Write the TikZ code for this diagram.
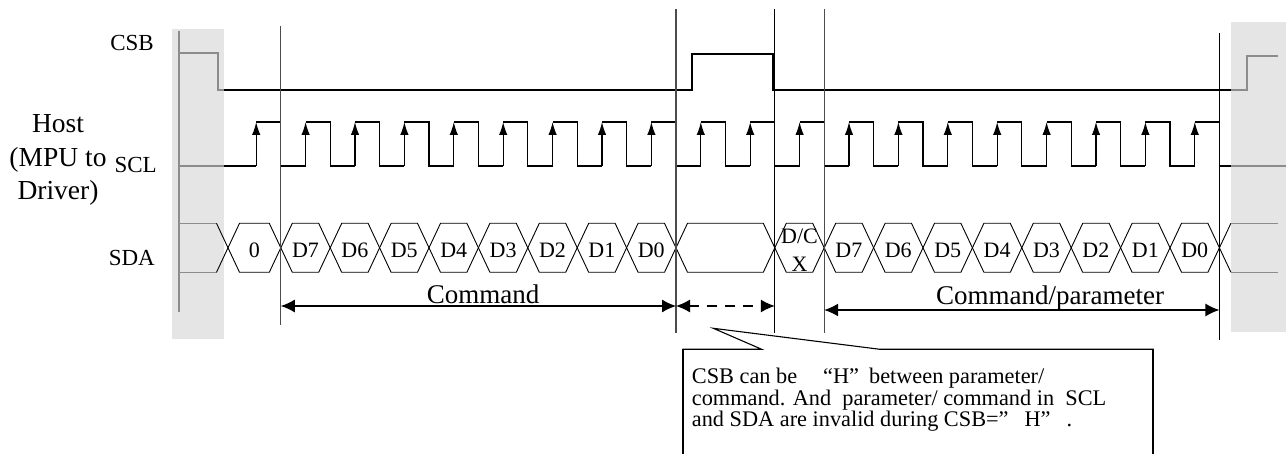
\documentclass[tikz,border=0pt]{standalone}
\usepackage{fontspec}
\setmainfont{Liberation Serif}
\usetikzlibrary{arrows.meta}
\begin{document}
\begin{tikzpicture}[x=1pt,y=-1pt,
  wave/.style={line width=1.3pt, black},
  hexa/.style={line width=0.9pt, black},
  bandline/.style={line width=1.2pt, black!45},
  guide/.style={line width=1.3pt, black!70},
  guideb/.style={line width=1.3pt, black},
  clk/.style={wave, -{Latex[length=13pt,width=8.5pt]}},
  dim/.style={line width=1.2pt, {Latex[length=14pt,width=13pt]}-{Latex[length=14pt,width=13pt]}},
  dimdash/.style={dim, dash pattern=on 10pt off 8pt},
  sig/.style={font=\fontsize{23}{24}\selectfont, anchor=east, inner sep=0pt},
  bit/.style={font=\fontsize{22}{22}\selectfont, inner sep=0pt},
  span/.style={font=\fontsize{27}{30}\selectfont, anchor=base, inner sep=0pt},
  note/.style={font=\fontsize{22.3}{21}\selectfont, anchor=base west, inner sep=0pt},
  callout/.style={line width=1.1pt, black},
  band/.style={fill=black!10, draw=none}
]
\useasboundingbox (0,0) rectangle (1286,454);

% gray bands
\fill[band] (172,29) rectangle (224,339);
\fill[band] (1231,22) rectangle (1286,332);
\draw[bandline] (179,31) -- (179,312);

% labels
\node[font=\fontsize{27.5}{33.3}\selectfont, align=center, inner sep=0pt] (host) at (58,160) {Host\\(MPU to\\Driver)};
\node[sig] (csbl) at (154,43.5) {CSB};
\node[sig] (scll) at (157,165.5) {SCL};
\node[sig] (sdal) at (155,258) {SDA};

% CSB
\draw[bandline] (179,53) -- (218,53) -- (218,90) -- (224,90);
\draw[wave] (224,90) -- (692,90) -- (692,54) -- (773,54) -- (773,90) -- (1231,90);
\draw[bandline] (1231,90) -- (1247,90) -- (1247,56) -- (1278,56);

% SCL
\draw[bandline] (179,166) -- (224,166);
\draw[wave] (224,166) -- (256.2,166);
\foreach \k in {0,...,19} {
  \pgfmathsetmacro\r{256.2+49.4*\k}
  \pgfmathsetmacro\f{\r+24.6}
  \pgfmathsetmacro\n{\r+49.4}
  \draw[clk] (\r,166) -- (\r,122);
  \ifnum\k<19
    \draw[wave] (\r,122) -- (\f,122) -- (\f,166) -- (\n,166);
  \else
    \draw[wave] (\r,122) -- (\f,122) -- (\f,166) -- (1231,166);
  \fi
}
\draw[bandline] (1231,166) -- (1286,166);

% SDA
\def\st{11.5}
\draw[bandline] (179,223.3) -- (216.5,223.3);
\draw[bandline] (179,272.3) -- (216.5,272.3);
\draw[hexa] (216.5,223.3) -- (228,247.8) -- (216.5,272.3);
\draw[hexa] (1219.4,247.8) -- (1230.9,223.3);
\draw[hexa] (1219.4,247.8) -- (1230.9,272.3);
\draw[bandline] (1230.9,223.3) -- (1278,223.3);
\draw[bandline] (1230.9,272.3) -- (1278,272.3);
\foreach \a/\b/\t in {228/280.8/0,
    280.8/330.2/D7, 330.2/379.6/D6, 379.6/429/D5, 429/478.4/D4,
    478.4/527.8/D3, 527.8/577.2/D2, 577.2/626.6/D1, 626.6/676/D0,
    676/774.8/{},
    824.2/873.6/D7, 873.6/923/D6, 923/972.4/D5, 972.4/1021.8/D4,
    1021.8/1071.2/D3, 1071.2/1120.6/D2, 1120.6/1170/D1, 1170/1219.4/D0} {
  \draw[hexa] (\a,247.8) -- (\a+\st,223.3) -- (\b-\st,223.3) -- (\b,247.8)
     -- (\b-\st,272.3) -- (\a+\st,272.3) -- cycle;
  \node[bit, anchor=base] at ({(\a+\b)/2},258) {\t};
}
\draw[hexa] (774.8,247.8) -- (774.8+\st,223.3) -- (824.2-\st,223.3) -- (824.2,247.8)
   -- (824.2-\st,272.3) -- (774.8+\st,272.3) -- cycle;
\node[bit, anchor=base] (dc) at (799.5,244) {D/C};
\node[bit, anchor=base] (dcx) at (799.5,272) {X};

% guide lines
\draw[guide] (280.8,26) -- (280.8,325);
\draw[guide] (676,9) -- (676,333);
\draw[guideb] (774.8,9) -- (774.8,333);
\draw[guide] (824.2,9) -- (824.2,333);
\draw[guideb] (1219.4,33) -- (1219.4,340);

% span arrows
\coordinate (cmdL) at (280.8,306);
\coordinate (cmdR) at (676,306);
\coordinate (gapR) at (774.8,306);
\coordinate (parL) at (824.2,310);
\coordinate (parR) at (1219.4,310);
\draw[dim] (cmdL) -- (cmdR);
\draw[dimdash] (cmdR) -- (gapR);
\draw[dim] (parL) -- (parR);
\node[span] (cmd) at (483,303.3) {Command};
\node[span] (par) at (1050,305) {Command/parameter};

% callout
\draw[callout] (683,454) -- (683,349.3) -- (761.7,349.3) -- (713.3,328.3) -- (880,349.3) -- (1153.3,349.3) -- (1153.3,454);
\draw[line width=2.2pt] (683,349.3) -- (683,454);
\draw[line width=2.2pt] (1153.3,349.3) -- (1153.3,454);
\node[note] (n1) at (691.7,384) {CSB can be\hspace{26pt}“H”\hspace{10pt}between parameter/};
\node[note] (n2) at (691.7,405.5) {command. And\ \ parameter/ command in\ \ SCL};
\node[note] (n3) at (691.7,426.5) {and SDA are invalid during CSB=”\hspace{16pt}H”\hspace{16pt}.};
\end{tikzpicture}
\end{document}
